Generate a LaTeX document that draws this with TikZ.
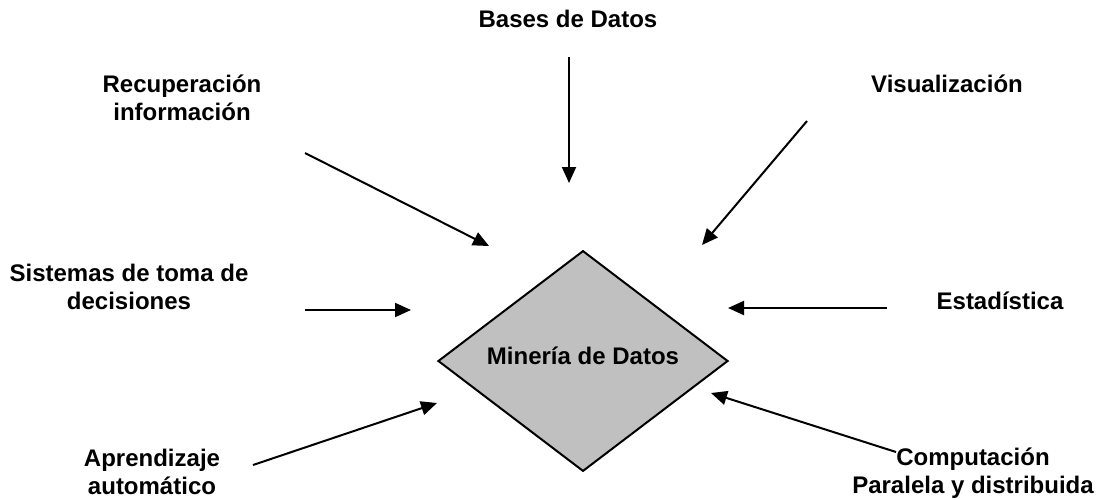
\documentclass[tikz,border=0pt]{standalone}
\usepackage{fontspec}
\setmainfont{Liberation Sans}
\usetikzlibrary{shapes.geometric,arrows.meta}
\definecolor{gris}{RGB}{192,192,192}

\begin{document}
\begin{tikzpicture}[x=1pt,y=-1pt,
	campo/.style={font=\bfseries\fontsize{24}{27.5}\selectfont,align=center,anchor=base,inner sep=0pt},
	flecha/.style={line width=2pt,-{Triangle[length=16pt,width=14pt]}}]
	\useasboundingbox (0,0) rectangle (1099,499);
	% centre
	\node[diamond,draw,line width=2pt,fill=gris,minimum width=290pt,minimum height=218pt,inner sep=0pt,
	text depth=11pt,font=\bfseries\fontsize{24}{27.5}\selectfont] (mineria) at (583,361) {Minería de Datos};
	% labels (base = last line)
	\node[campo] (bases) at (568,27) {Bases de Datos};
	\node[campo] (recup) at (182,120) {Recuperación\\información};
	\node[campo] (visual) at (947,92) {Visualización};
	\node[campo] (sistemas) at (129,309) {Sistemas de toma de\\decisiones};
	\node[campo] (estad) at (1000,309) {Estadística};
	\node[campo] (aprend) at (152,494) {Aprendizaje\\automático};
	\node[campo] (comput) at (973,493) {Computación\\Paralela y distribuida};
	% arrow ends
	\coordinate (bases-a) at (569,57);   \coordinate (bases-b) at (569,183);
	\coordinate (recup-a) at (305,153);  \coordinate (recup-b) at (489,246);
	\coordinate (visual-a) at (807,121); \coordinate (visual-b) at (702,245);
	\coordinate (sist-a) at (305,310);   \coordinate (sist-b) at (411,310);
	\coordinate (estad-a) at (887,308);  \coordinate (estad-b) at (728,308);
	\coordinate (aprend-a) at (253,465); \coordinate (aprend-b) at (437,403);
	\coordinate (comput-a) at (896,452); \coordinate (comput-b) at (711,393);
	% arrows
	\draw[flecha] (bases-a) -- (bases-b);
	\draw[flecha] (recup-a) -- (recup-b);
	\draw[flecha] (visual-a) -- (visual-b);
	\draw[flecha] (sist-a) -- (sist-b);
	\draw[flecha] (estad-a) -- (estad-b);
	\draw[flecha] (aprend-a) -- (aprend-b);
	\draw[flecha] (comput-a) -- (comput-b);
\end{tikzpicture}
\end{document}
